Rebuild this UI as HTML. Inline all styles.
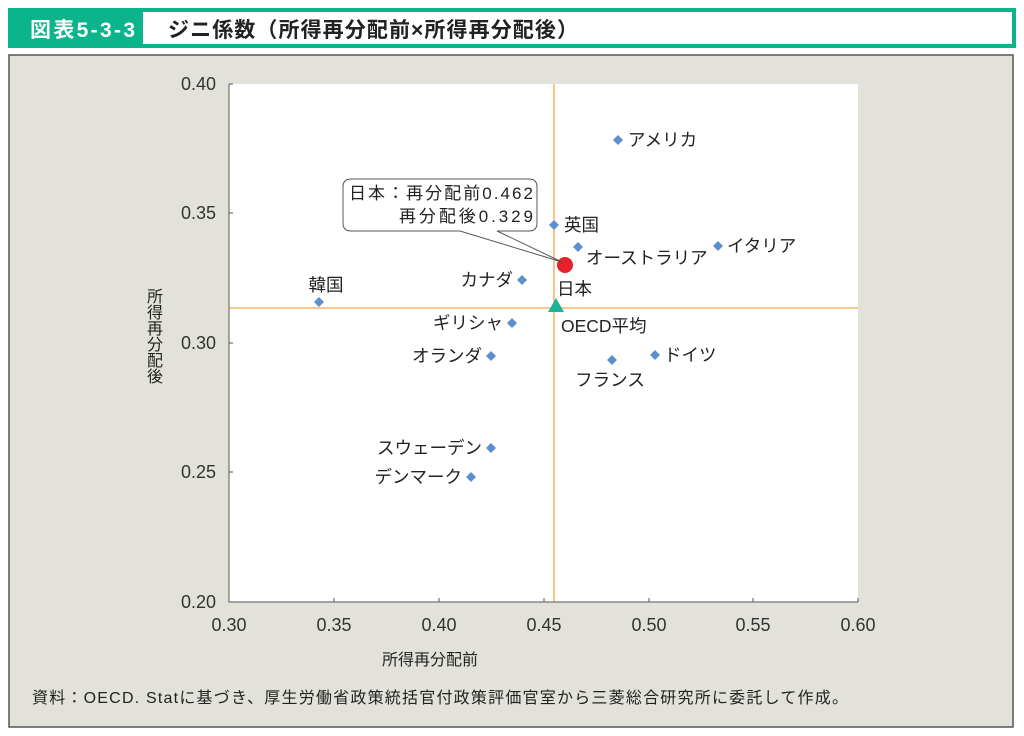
<!DOCTYPE html><html><head><meta charset="utf-8"><style>
body{margin:0;width:1024px;height:736px;background:#fff;font-family:"Liberation Sans","Noto Sans CJK JP",sans-serif;overflow:hidden}
</style></head><body>
<svg width="1024" height="736" xmlns="http://www.w3.org/2000/svg" style="position:absolute;left:0;top:0" font-family="Liberation Sans, Noto Sans CJK JP, sans-serif">
<rect x="8" y="8" width="1008" height="40" fill="#0bb48a"/>
<rect x="143" y="12" width="869" height="32" fill="#fff"/>
<text x="30" y="37" font-size="21" font-weight="bold" fill="#fff" textLength="105">図表5-3-3</text>
<text x="168" y="37" font-size="21" font-weight="bold" fill="#222" textLength="410">ジニ係数（所得再分配前×所得再分配後）</text>
<rect x="9" y="55" width="1004" height="672" fill="#e3e2da" stroke="#555" stroke-width="1.5"/>
<rect x="229" y="84" width="629" height="518" fill="#fff"/>
<line x1="554" y1="84" x2="554" y2="602" stroke="#f5a54a" stroke-width="1.3"/>
<line x1="229" y1="308" x2="858" y2="308" stroke="#f5a54a" stroke-width="1.3"/>
<path d="M229 84V602H858" fill="none" stroke="#555" stroke-width="1"/>
<g stroke="#555"><line x1="229" y1="84" x2="233" y2="84"/><line x1="229" y1="213" x2="233" y2="213"/><line x1="229" y1="343" x2="233" y2="343"/><line x1="229" y1="472" x2="233" y2="472"/>
<line x1="334" y1="602" x2="334" y2="598"/><line x1="439" y1="602" x2="439" y2="598"/><line x1="544" y1="602" x2="544" y2="598"/><line x1="649" y1="602" x2="649" y2="598"/><line x1="753" y1="602" x2="753" y2="598"/><line x1="858" y1="602" x2="858" y2="598"/></g>
<g font-size="18" fill="#333" text-anchor="end"><text x="216" y="90">0.40</text><text x="216" y="219">0.35</text><text x="216" y="349">0.30</text><text x="216" y="478">0.25</text><text x="216" y="608">0.20</text></g>
<g font-size="18" fill="#333" text-anchor="middle"><text x="229" y="631">0.30</text><text x="334" y="631">0.35</text><text x="439" y="631">0.40</text><text x="544" y="631">0.45</text><text x="649" y="631">0.50</text><text x="753" y="631">0.55</text><text x="858" y="631">0.60</text></g>
<text x="430" y="665" font-size="16" fill="#222" text-anchor="middle">所得再分配前</text>
<g font-size="16" fill="#222" text-anchor="middle"><text x="155" y="302">所</text><text x="155" y="318">得</text><text x="155" y="334">再</text><text x="155" y="350">分</text><text x="155" y="366">配</text><text x="155" y="382">後</text></g>
<text x="32" y="703" font-size="16" fill="#222" textLength="816">資料：OECD. Statに基づき、厚生労働省政策統括官付政策評価官室から三菱総合研究所に委託して作成。</text>
<g fill="#5b8fd0">
<path d="M618 135l5 5-5 5-5-5z"/><path d="M554 220l5 5-5 5-5-5z"/><path d="M578 242l5 5-5 5-5-5z"/><path d="M718 241l5 5-5 5-5-5z"/><path d="M522 275l5 5-5 5-5-5z"/><path d="M319 297l5 5-5 5-5-5z"/><path d="M512 318l5 5-5 5-5-5z"/><path d="M491 351l5 5-5 5-5-5z"/><path d="M655 350l5 5-5 5-5-5z"/><path d="M612 355l5 5-5 5-5-5z"/><path d="M491 443l5 5-5 5-5-5z"/><path d="M471 472l5 5-5 5-5-5z"/></g>
<circle cx="565" cy="265" r="8" fill="#e8202a"/>
<path d="M556 298l8 14h-16z" fill="#1cb39a"/>
<g font-size="17.5" fill="#222">
<text x="628" y="146">アメリカ</text><text x="564" y="231">英国</text><text x="586" y="264">オーストラリア</text><text x="727" y="252">イタリア</text><text x="557" y="295">日本</text><text x="513" y="286" text-anchor="end">カナダ</text><text x="326" y="291" text-anchor="middle">韓国</text><text x="561" y="332">OECD平均</text><text x="503" y="329" text-anchor="end">ギリシャ</text><text x="482" y="362" text-anchor="end">オランダ</text><text x="664" y="361">ドイツ</text><text x="610" y="386" text-anchor="middle">フランス</text><text x="482" y="454" text-anchor="end">スウェーデン</text><text x="462" y="483" text-anchor="end">デンマーク</text></g>
<path d="M351 179H529Q537 179 537 187V223Q537 231 529 231H497L562 262L460 231H351Q343 231 343 223V187Q343 179 351 179Z" fill="#fff" stroke="#555" stroke-width="1"/>
<text x="349" y="199" font-size="17" fill="#222" textLength="184">日本：再分配前0.462</text>
<text x="399" y="222" font-size="17" fill="#222" textLength="134">再分配後0.329</text>
</svg></body></html>
